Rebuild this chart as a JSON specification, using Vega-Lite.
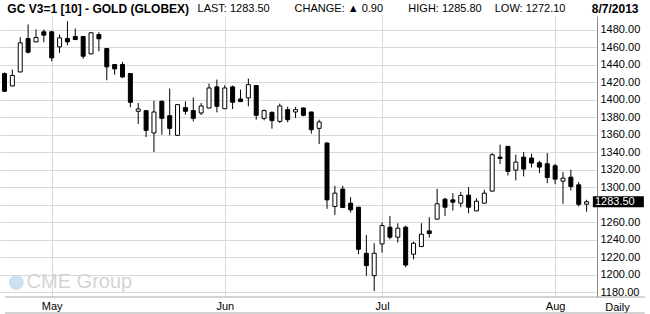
{
  "$schema": "https://vega.github.io/schema/vega-lite/v6.json",
  "width": 597,
  "height": 281,
  "autosize": {"type": "none"},
  "padding": {"left": 0, "top": 16, "right": 53, "bottom": 17},
  "background": "white",
  "config": {"view": {"stroke": null}, "font": "Liberation Sans"},
  "datasets": {
    "candles": [
      {"i": 0, "date": "2013-04-23", "open": 1430.2, "high": 1431.5, "low": 1409.0, "close": 1409.9},
      {"i": 1, "date": "2013-04-24", "open": 1416.0, "high": 1434.7, "low": 1415.5, "close": 1427.9},
      {"i": 2, "date": "2013-04-25", "open": 1432.0, "high": 1471.8, "low": 1431.5, "close": 1465.3},
      {"i": 3, "date": "2013-04-26", "open": 1470.3, "high": 1486.3, "low": 1453.1, "close": 1454.6},
      {"i": 4, "date": "2013-04-29", "open": 1466.4, "high": 1480.6, "low": 1466.0, "close": 1471.4},
      {"i": 5, "date": "2013-04-30", "open": 1477.9, "high": 1480.6, "low": 1466.0, "close": 1474.1},
      {"i": 6, "date": "2013-05-01", "open": 1477.9, "high": 1479.0, "low": 1444.3, "close": 1448.1},
      {"i": 7, "date": "2013-05-02", "open": 1460.7, "high": 1474.8, "low": 1453.8, "close": 1471.0},
      {"i": 8, "date": "2013-05-03", "open": 1470.3, "high": 1490.1, "low": 1462.6, "close": 1466.4},
      {"i": 9, "date": "2013-05-06", "open": 1472.6, "high": 1481.7, "low": 1468.4, "close": 1469.1},
      {"i": 10, "date": "2013-05-07", "open": 1472.6, "high": 1473.0, "low": 1447.0, "close": 1450.0},
      {"i": 11, "date": "2013-05-08", "open": 1452.7, "high": 1477.2, "low": 1452.3, "close": 1476.8},
      {"i": 12, "date": "2013-05-09", "open": 1474.8, "high": 1477.5, "low": 1455.7, "close": 1469.9},
      {"i": 13, "date": "2013-05-10", "open": 1458.8, "high": 1459.2, "low": 1422.5, "close": 1437.8},
      {"i": 14, "date": "2013-05-13", "open": 1440.5, "high": 1440.8, "low": 1429.0, "close": 1435.5},
      {"i": 15, "date": "2013-05-14", "open": 1440.5, "high": 1443.5, "low": 1425.2, "close": 1426.3},
      {"i": 16, "date": "2013-05-15", "open": 1430.2, "high": 1430.5, "low": 1391.6, "close": 1397.3},
      {"i": 17, "date": "2013-05-16", "open": 1387.0, "high": 1396.5, "low": 1372.5, "close": 1389.7},
      {"i": 18, "date": "2013-05-17", "open": 1387.7, "high": 1388.5, "low": 1357.6, "close": 1365.2},
      {"i": 19, "date": "2013-05-20", "open": 1362.2, "high": 1399.2, "low": 1340.4, "close": 1386.2},
      {"i": 20, "date": "2013-05-21", "open": 1398.4, "high": 1399.6, "low": 1360.2, "close": 1379.0},
      {"i": 21, "date": "2013-05-22", "open": 1382.0, "high": 1413.0, "low": 1359.5, "close": 1367.5},
      {"i": 22, "date": "2013-05-23", "open": 1359.5, "high": 1394.8, "low": 1359.3, "close": 1394.6},
      {"i": 23, "date": "2013-05-24", "open": 1391.2, "high": 1398.4, "low": 1383.2, "close": 1387.0},
      {"i": 24, "date": "2013-05-28", "open": 1387.8, "high": 1403.0, "low": 1375.5, "close": 1379.0},
      {"i": 25, "date": "2013-05-29", "open": 1385.1, "high": 1396.5, "low": 1382.8, "close": 1393.1},
      {"i": 26, "date": "2013-05-30", "open": 1390.8, "high": 1418.7, "low": 1390.5, "close": 1413.7},
      {"i": 27, "date": "2013-05-31", "open": 1414.9, "high": 1423.3, "low": 1385.8, "close": 1392.7},
      {"i": 28, "date": "2013-06-03", "open": 1390.0, "high": 1416.8, "low": 1389.7, "close": 1413.7},
      {"i": 29, "date": "2013-06-04", "open": 1414.9, "high": 1416.4, "low": 1389.6, "close": 1397.3},
      {"i": 30, "date": "2013-06-05", "open": 1401.1, "high": 1411.8, "low": 1397.8, "close": 1398.1},
      {"i": 31, "date": "2013-06-06", "open": 1402.3, "high": 1424.4, "low": 1392.7, "close": 1417.5},
      {"i": 32, "date": "2013-06-07", "open": 1416.4, "high": 1416.7, "low": 1377.4, "close": 1382.4},
      {"i": 33, "date": "2013-06-10", "open": 1379.0, "high": 1388.9, "low": 1376.7, "close": 1387.8},
      {"i": 34, "date": "2013-06-11", "open": 1385.8, "high": 1386.9, "low": 1367.1, "close": 1376.3},
      {"i": 35, "date": "2013-06-12", "open": 1375.5, "high": 1395.8, "low": 1373.6, "close": 1393.1},
      {"i": 36, "date": "2013-06-13", "open": 1388.9, "high": 1392.3, "low": 1374.4, "close": 1377.4},
      {"i": 37, "date": "2013-06-14", "open": 1386.2, "high": 1391.9, "low": 1379.3, "close": 1388.9},
      {"i": 38, "date": "2013-06-17", "open": 1390.8, "high": 1391.1, "low": 1381.3, "close": 1382.4},
      {"i": 39, "date": "2013-06-18", "open": 1386.2, "high": 1386.5, "low": 1361.4, "close": 1366.0},
      {"i": 40, "date": "2013-06-19", "open": 1367.5, "high": 1377.4, "low": 1349.5, "close": 1374.8},
      {"i": 41, "date": "2013-06-20", "open": 1350.7, "high": 1351.8, "low": 1275.4, "close": 1285.7},
      {"i": 42, "date": "2013-06-21", "open": 1278.1, "high": 1301.8, "low": 1268.5, "close": 1293.4},
      {"i": 43, "date": "2013-06-24", "open": 1298.0, "high": 1301.8, "low": 1276.5, "close": 1276.9},
      {"i": 44, "date": "2013-06-25", "open": 1281.9, "high": 1288.8, "low": 1271.2, "close": 1274.3},
      {"i": 45, "date": "2013-06-26", "open": 1277.3, "high": 1277.6, "low": 1223.5, "close": 1229.2},
      {"i": 46, "date": "2013-06-27", "open": 1224.6, "high": 1245.6, "low": 1199.0, "close": 1210.5},
      {"i": 47, "date": "2013-06-28", "open": 1199.0, "high": 1236.1, "low": 1181.4, "close": 1224.6},
      {"i": 48, "date": "2013-07-01", "open": 1235.3, "high": 1260.1, "low": 1225.4, "close": 1256.3},
      {"i": 49, "date": "2013-07-02", "open": 1254.4, "high": 1267.4, "low": 1240.6, "close": 1243.0},
      {"i": 50, "date": "2013-07-03", "open": 1243.0, "high": 1259.0, "low": 1236.8, "close": 1253.3},
      {"i": 51, "date": "2013-07-05", "open": 1254.4, "high": 1256.3, "low": 1208.6, "close": 1211.2},
      {"i": 52, "date": "2013-07-08", "open": 1223.5, "high": 1238.0, "low": 1217.7, "close": 1236.1},
      {"i": 53, "date": "2013-07-09", "open": 1232.3, "high": 1259.0, "low": 1232.0, "close": 1246.4},
      {"i": 54, "date": "2013-07-10", "open": 1250.2, "high": 1265.9, "low": 1242.6, "close": 1247.2},
      {"i": 55, "date": "2013-07-11", "open": 1263.6, "high": 1298.3, "low": 1263.3, "close": 1281.2},
      {"i": 56, "date": "2013-07-12", "open": 1286.5, "high": 1288.0, "low": 1267.4, "close": 1277.3},
      {"i": 57, "date": "2013-07-15", "open": 1285.7, "high": 1293.4, "low": 1273.5, "close": 1283.1},
      {"i": 58, "date": "2013-07-16", "open": 1281.9, "high": 1294.9, "low": 1277.3, "close": 1290.7},
      {"i": 59, "date": "2013-07-17", "open": 1291.1, "high": 1300.2, "low": 1270.4, "close": 1277.3},
      {"i": 60, "date": "2013-07-18", "open": 1273.1, "high": 1287.6, "low": 1272.8, "close": 1284.2},
      {"i": 61, "date": "2013-07-19", "open": 1281.9, "high": 1297.2, "low": 1281.6, "close": 1293.4},
      {"i": 62, "date": "2013-07-22", "open": 1295.7, "high": 1339.2, "low": 1295.4, "close": 1337.3},
      {"i": 63, "date": "2013-07-23", "open": 1334.6, "high": 1348.8, "low": 1326.6, "close": 1333.1},
      {"i": 64, "date": "2013-07-24", "open": 1346.9, "high": 1347.2, "low": 1313.6, "close": 1318.2},
      {"i": 65, "date": "2013-07-25", "open": 1319.7, "high": 1337.3, "low": 1307.9, "close": 1328.9},
      {"i": 66, "date": "2013-07-26", "open": 1334.6, "high": 1340.4, "low": 1312.5, "close": 1320.9},
      {"i": 67, "date": "2013-07-29", "open": 1333.5, "high": 1338.5, "low": 1322.8, "close": 1327.8},
      {"i": 68, "date": "2013-07-30", "open": 1328.1, "high": 1330.4, "low": 1316.3, "close": 1323.2},
      {"i": 69, "date": "2013-07-31", "open": 1327.0, "high": 1339.2, "low": 1304.8, "close": 1311.3},
      {"i": 70, "date": "2013-08-01", "open": 1324.7, "high": 1327.0, "low": 1303.7, "close": 1309.4},
      {"i": 71, "date": "2013-08-02", "open": 1307.1, "high": 1317.5, "low": 1281.2, "close": 1310.6},
      {"i": 72, "date": "2013-08-05", "open": 1311.7, "high": 1320.1, "low": 1296.4, "close": 1301.0},
      {"i": 73, "date": "2013-08-06", "open": 1302.9, "high": 1306.0, "low": 1278.1, "close": 1280.5},
      {"i": 74, "date": "2013-08-07", "open": 1280.8, "high": 1285.8, "low": 1272.1, "close": 1283.5}
    ],
    "last": [{"label": "1283.50", "price": 1283.5}],
    "mark": [{"label": "CME Group"}]
  },
  "resolve": {"axis": {"x": "independent", "y": "independent"}},
  "layer": [
    {
      "data": {"name": "mark"},
      "mark": {"type": "point", "filled": true, "size": 220, "color": "#cddff0", "opacity": 1},
      "encoding": {
        "x": {"datum": 1.5, "type": "quantitative", "axis": null},
        "y": {"datum": 1191.2, "type": "quantitative", "axis": null}
      }
    },
    {
      "data": {"name": "mark"},
      "mark": {"type": "text", "align": "left", "baseline": "middle", "fontSize": 20, "color": "#d4d4d4"},
      "encoding": {
        "x": {"datum": 2.81, "type": "quantitative", "axis": null},
        "y": {"datum": 1191.2, "type": "quantitative", "axis": null},
        "text": {"field": "label"}
      }
    },
    {
      "data": {"name": "candles"},
      "mark": {"type": "rule", "color": "black", "strokeWidth": 1},
      "encoding": {
        "x": {
          "field": "i", "type": "quantitative",
          "scale": {"domain": [0.0625, 74.6875], "nice": false, "zero": false},
          "axis": {
            "orient": "bottom", "values": [6, 28, 48, 70],
            "labelExpr": "datum.value == 6 ? 'May' : datum.value == 28 ? 'Jun' : datum.value == 48 ? 'Jul' : 'Aug'",
            "grid": true, "gridColor": "#d9d9d9", "ticks": false, "domain": false,
            "labelPadding": 9, "labelBaseline": "middle", "labelFontSize": 11, "labelColor": "black",
            "labelOverlap": false, "labelFlush": false,
            "title": "Daily", "titleX": 617, "titleY": 10, "titleAlign": "center", "titleBaseline": "middle",
            "titleFontWeight": "normal", "titleFontSize": 11, "titleColor": "black"
          }
        },
        "y": {
          "field": "low", "type": "quantitative",
          "scale": {"domain": [1174.6, 1496.0], "nice": false, "zero": false},
          "axis": {
            "orient": "right",
            "values": [1180, 1200, 1220, 1240, 1260, 1280, 1300, 1320, 1340, 1360, 1380, 1400, 1420, 1440, 1460, 1480],
            "format": ".2f",
            "labelExpr": "datum.value == 1280 ? '' : datum.label",
            "grid": true, "gridColor": "#d9d9d9", "ticks": false,
            "domain": true, "domainColor": "#8c8c8c",
            "labelPadding": 3, "labelFontSize": 11, "labelColor": "black", "labelOverlap": false,
            "title": null
          }
        },
        "y2": {"field": "high"}
      }
    },
    {
      "data": {"name": "candles"},
      "mark": {"type": "bar", "size": 4, "stroke": "black", "strokeWidth": 1},
      "encoding": {
        "x": {
          "field": "i", "type": "quantitative",
          "scale": {"domain": [0.0625, 74.6875], "nice": false, "zero": false},
          "axis": {
            "orient": "top",
            "values": [0.3, 29.06, 42.44, 55.94, 66.75, 74.6],
            "labelExpr": "datum.value < 1 ? 'GC V3=1 [10] - GOLD (GLOBEX)' : datum.value < 30 ? 'LAST: 1283.50' : datum.value < 43 ? 'CHANGE: ▲ 0.90' : datum.value < 56 ? 'HIGH: 1285.80' : datum.value < 67 ? 'LOW: 1272.10' : '8/7/2013'",
            "labelAlign": {"condition": {"test": "datum.value < 1 || datum.value > 74", "value": "left"}, "value": "center"},
            "labelFontWeight": {"condition": {"test": "datum.value < 1 || datum.value > 74", "value": "bold"}, "value": "normal"},
            "labelFontSize": {"condition": {"test": "datum.value < 1 || datum.value > 74", "value": 12}, "value": 11},
            "grid": false, "ticks": false, "domain": false,
            "labelPadding": 8, "labelBaseline": "middle", "labelColor": "black",
            "labelOverlap": false, "labelFlush": false, "labelBound": false, "labelLimit": 0,
            "title": null
          }
        },
        "y": {"field": "open", "type": "quantitative", "axis": null},
        "y2": {"field": "close"},
        "fill": {"condition": {"test": "datum.close < datum.open", "value": "black"}, "value": "white"}
      }
    },
    {
      "data": {"name": "mark"},
      "mark": {"type": "rule", "color": "#a6a6a6", "strokeWidth": 1, "clip": false},
      "encoding": {
        "x": {"datum": 0.0625, "type": "quantitative", "axis": null},
        "x2": {"datum": 81.4},
        "y": {"datum": 1174.6, "type": "quantitative", "axis": null}
      }
    },
    {
      "data": {"name": "mark"},
      "mark": {"type": "rule", "color": "#a6a6a6", "strokeWidth": 1, "clip": false},
      "encoding": {
        "x": {"datum": 0.0625, "type": "quantitative", "axis": null},
        "x2": {"datum": 81.4},
        "y": {"datum": 1156.3, "type": "quantitative", "axis": null}
      }
    },
    {
      "data": {"name": "last"},
      "mark": {"type": "tick", "orient": "horizontal", "thickness": 11, "size": 51, "color": "black", "opacity": 1, "clip": false},
      "encoding": {
        "x": {"datum": 78.04, "type": "quantitative", "axis": null},
        "y": {"field": "price", "type": "quantitative", "axis": null}
      }
    },
    {
      "data": {"name": "last"},
      "mark": {"type": "text", "align": "left", "baseline": "middle", "color": "white", "fontSize": 11, "clip": false},
      "encoding": {
        "x": {"datum": 75.06, "type": "quantitative", "axis": null},
        "y": {"field": "price", "type": "quantitative", "axis": null},
        "text": {"field": "label"}
      }
    }
  ]
}
